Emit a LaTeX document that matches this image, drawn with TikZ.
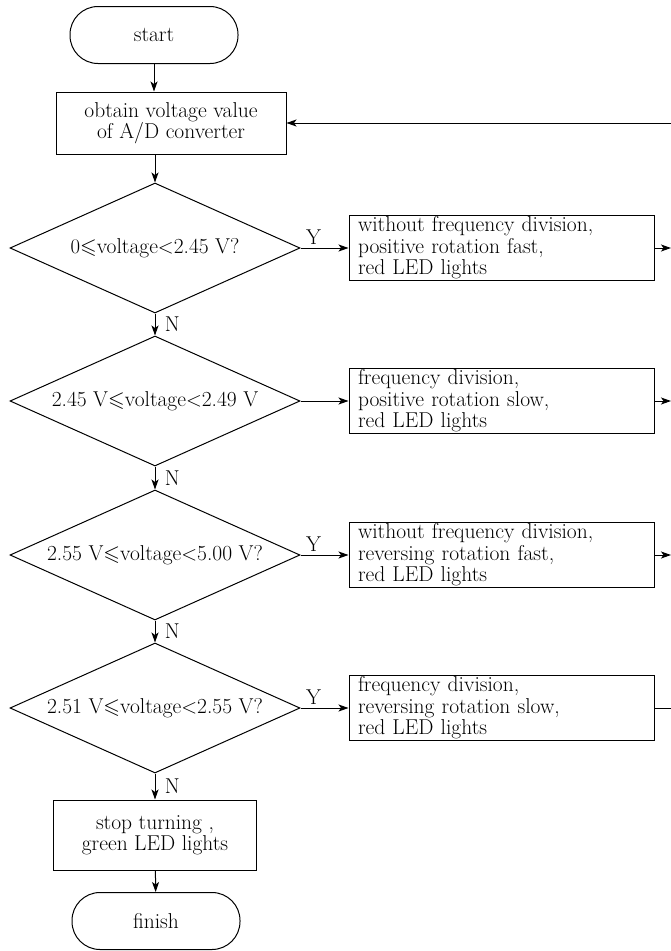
\documentclass[tikz,border=0pt]{standalone}
\usepackage{amsmath, amssymb}
\usepackage{tikz}
\usetikzlibrary{arrows.meta, positioning, shapes.geometric}

\tikzset{
  term/.style={draw, rounded corners=28pt, minimum width=168pt, minimum height=57pt},
  proc/.style={draw, align=center, minimum height=62pt},
  decide/.style={draw, diamond, aspect=2.2, inner sep=0pt, minimum width=290pt, minimum height=130pt},
  act/.style={draw, text width=287pt, align=left, inner xsep=9pt, inner ysep=1pt, minimum height=65pt},
  flow/.style={-{Stealth[length=10pt, width=7pt, inset=2.5pt]}},
}

\begin{document}
\begin{tikzpicture}[x=1pt, y=-1pt, line width=1pt, font=\fontsize{21.5}{21.5}\selectfont]
                \useasboundingbox (0,0) rectangle (671,951);

                % Main column
                \node[term] (start) at (154,35) {start};
                \node[proc, minimum width=230pt] (obtain) at (171,123) {obtain voltage value\\of A/D converter};

                % Decisions
                \node[decide] (d1) at (155,248) {$0{\leqslant}$voltage${<}$2.45 V?};
                \node[decide] (d2) at (155,401) {2.45 V${\leqslant}$voltage${<}$2.49 V};
                \node[decide] (d3) at (155,555) {2.55 V${\leqslant}$voltage${<}$5.00 V?};
                \node[decide] (d4) at (155,708) {2.51 V${\leqslant}$voltage${<}$2.55 V?};

                % Actions
                \node[act, right=48pt of d1] (b1) {without frequency division,\\positive rotation fast,\\red LED lights};
                \node[act, right=48pt of d2] (b2) {frequency division,\\positive rotation slow,\\red LED lights};
                \node[act, right=48pt of d3] (b3) {without frequency division,\\reversing rotation fast,\\red LED lights};
                \node[act, right=48pt of d4] (b4) {frequency division,\\reversing rotation slow,\\red LED lights};

                % End
                \node[proc, minimum width=203pt, minimum height=70pt] (stop) at (155,835) {stop turning ,\\green LED lights};
                \node[term] (finish) at (156,921) {finish};

                % Return line at the right edge
                \coordinate (rim) at (671,123);

                % Connectors
                \draw[flow] (start) -- (start.south |- obtain.north);
                \draw[flow] (d1.north |- obtain.south) -- (d1);
                \draw[flow] (d1) -- node[above, pos=0.27] {Y} (b1);
                \draw[flow] (d1) -- node[right, xshift=6pt] {N} (d2);
                \draw[flow] (d2) -- (b2);
                \draw[flow] (d2) -- node[right, xshift=6pt] {N} (d3);
                \draw[flow] (d3) -- node[above, pos=0.27] {Y} (b3);
                \draw[flow] (d3) -- node[right, xshift=6pt] {N} (d4);
                \draw[flow] (d4) -- node[above, pos=0.27] {Y} (b4);
                \draw[flow] (d4) -- node[right, xshift=6pt] {N} (stop);
                \draw[flow] (stop) -- (finish);

                \draw[flow] (b1.east) -- (b1.east -| rim);
                \draw[flow] (b2.east) -- (b2.east -| rim);
                \draw[flow] (b3.east) -- (b3.east -| rim);
                \draw (b4.east) -- (b4.east -| rim);
                \draw[flow] (rim) -- (obtain);
            \end{tikzpicture}
\end{document}
